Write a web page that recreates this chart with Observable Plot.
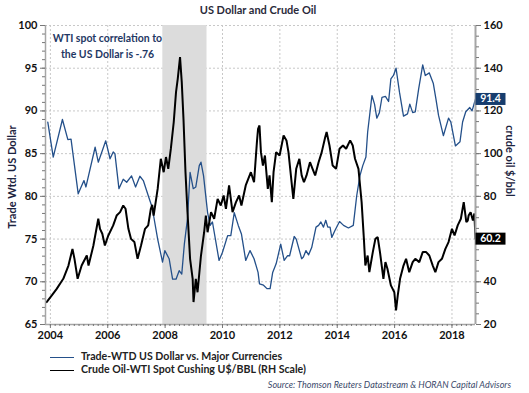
<!DOCTYPE html>
<html><head><meta charset="utf-8">
<script src="https://cdn.jsdelivr.net/npm/d3@7"></script>
<script src="https://cdn.jsdelivr.net/npm/@observablehq/plot@0.6"></script>
<style>
body{margin:0;background:#fff;font-family:Lato,"Open Sans",sans-serif;}
#wrap{position:relative;width:529px;height:393px;overflow:hidden;background:#fff}
#title{position:absolute;z-index:2;left:0;width:516px;top:3px;text-align:center;font-weight:bold;font-size:11px;color:#2a2a3a}
#chart{position:absolute;left:0;top:14px}
.ylab{position:absolute;white-space:nowrap;font-size:11px;font-weight:bold;color:#1c2340}
#ylabL{left:11px;top:177px;transform:translate(-50%,-50%) rotate(-90deg)}
#ylabR{left:510px;top:161px;transform:translate(-50%,-50%) rotate(90deg)}
.leg{position:absolute;left:50px;height:14px;line-height:14px;font-size:10.6px;font-weight:bold;color:#222;white-space:nowrap}
.leg i{display:inline-block;width:24px;height:0;border-top:1.5px solid;vertical-align:middle;margin-right:7px}
#leg1{top:349px}
#leg2{top:362px}
#src{position:absolute;right:18px;top:379px;font-size:9px;font-style:italic;color:#3b4a6b;white-space:nowrap}
</style></head>
<body>
<div id="wrap">
  <div id="chart"></div>
  <div id="title">US Dollar and Crude Oil</div>
  <div class="ylab" id="ylabL">Trade Wtd. US Dollar</div>
  <div class="ylab" id="ylabR">crude oil $/bbl</div>
  <div class="leg" id="leg1"><i style="color:#24508a"></i>Trade-WTD US Dollar vs. Major Currencies</div>
  <div class="leg" id="leg2"><i style="color:#000"></i>Crude Oil-WTI Spot Cushing U$/BBL (RH Scale)</div>
  <div id="src">Source: Thomson Reuters Datastream &amp; HORAN Capital Advisors</div>
</div>
<script>
// ---- data (decimal years) ----
const dollarT = [2003.91,2004.10,2004.42,2004.61,2004.72,2004.97,2005.17,2005.24,2005.56,2005.67,2005.93,2006.08,2006.19,2006.25,2006.39,2006.54,2006.66,2006.83,2006.97,2007.12,2007.24,2007.41,2007.55,2007.60,2007.74,2007.91,2007.99,2008.14,2008.26,2008.38,2008.49,2008.58,2008.67,2008.78,2008.87,2008.98,2009.07,2009.19,2009.25,2009.34,2009.48,2009.57,2009.65,2009.88,2010.00,2010.18,2010.29,2010.41,2010.55,2010.66,2010.81,2010.96,2011.10,2011.24,2011.29,2011.43,2011.55,2011.66,2011.75,2011.87,2012.03,2012.15,2012.27,2012.34,2012.50,2012.57,2012.76,2012.82,2012.91,2013.00,2013.11,2013.26,2013.35,2013.43,2013.52,2013.60,2013.67,2013.75,2013.81,2013.92,2014.08,2014.22,2014.39,2014.56,2014.68,2014.79,2014.89,2015.00,2015.06,2015.21,2015.30,2015.38,2015.47,2015.56,2015.68,2015.79,2015.87,2015.96,2016.05,2016.17,2016.31,2016.45,2016.53,2016.63,2016.72,2016.84,2016.98,2017.07,2017.21,2017.35,2017.44,2017.53,2017.70,2017.88,2017.96,2018.12,2018.28,2018.37,2018.48,2018.62,2018.70,2018.76,2018.82];
const dollarV = [88.7,84.6,89.0,86.65,86.7,80.3,81.85,81.1,85.75,84.0,86.5,84.4,85.2,85.0,80.9,82.0,81.65,82.4,81.1,82.35,81.85,80.1,78.7,77.7,75.0,72.3,73.65,72.7,70.3,70.3,71.3,70.9,74.4,77.4,82.8,80.9,81.1,83.6,84.0,82.4,78.1,76.6,77.0,72.5,73.45,75.4,75.4,78.1,76.6,75.6,72.5,73.65,72.7,71.1,69.75,69.6,69.2,69.2,71.1,72.1,74.4,72.5,73.05,73.05,75.3,75.0,72.7,72.9,73.65,73.15,74.0,76.4,76.6,77.0,76.4,77.2,76.4,76.4,75.2,76.0,77.05,76.6,76.3,76.6,80.1,82.4,83.6,84.6,87.5,91.8,90.8,89.15,89.8,91.6,91.7,91.1,93.75,94.15,95.0,92.2,89.4,89.65,90.8,89.8,89.9,92.6,95.4,94.15,94.45,93.2,91.4,89.5,87.1,89.15,88.7,85.9,86.4,88.7,89.9,90.4,90.0,90.7,91.4];

const oilT = [2003.87,2004.05,2004.22,2004.37,2004.45,2004.63,2004.77,2004.84,2004.95,2005.09,2005.27,2005.33,2005.50,2005.67,2005.73,2005.81,2005.90,2006.02,2006.19,2006.31,2006.43,2006.54,2006.62,2006.72,2006.81,2006.93,2007.04,2007.16,2007.30,2007.41,2007.50,2007.55,2007.60,2007.74,2007.85,2007.95,2008.03,2008.11,2008.20,2008.30,2008.38,2008.44,2008.52,2008.58,2008.64,2008.71,2008.78,2008.87,2008.96,2008.99,2009.07,2009.13,2009.25,2009.36,2009.42,2009.48,2009.60,2009.71,2009.83,2009.94,2010.04,2010.12,2010.23,2010.35,2010.47,2010.58,2010.66,2010.81,2010.99,2011.10,2011.20,2011.24,2011.29,2011.34,2011.41,2011.48,2011.58,2011.64,2011.72,2011.78,2011.87,2011.99,2012.13,2012.23,2012.30,2012.42,2012.47,2012.57,2012.68,2012.76,2012.84,2012.93,2013.05,2013.14,2013.23,2013.35,2013.46,2013.58,2013.63,2013.73,2013.84,2013.96,2014.08,2014.20,2014.31,2014.45,2014.54,2014.62,2014.74,2014.85,2014.93,2014.98,2015.06,2015.12,2015.24,2015.33,2015.41,2015.49,2015.61,2015.68,2015.75,2015.87,2015.99,2016.05,2016.11,2016.19,2016.31,2016.40,2016.51,2016.63,2016.72,2016.86,2016.98,2017.10,2017.21,2017.33,2017.42,2017.53,2017.65,2017.77,2017.88,2018.00,2018.09,2018.20,2018.31,2018.41,2018.50,2018.55,2018.58,2018.65,2018.73,2018.78,2018.82];
const oilV = [30.5,33.6,36.7,39.8,41.4,47.6,55.4,50.75,41.4,47.6,52.3,47.6,57.0,69.5,64.8,62.5,57.0,61.7,66.4,71.0,72.6,75.7,74.2,64.8,60.1,58.6,50.75,57.0,64.8,66.4,74.0,76.0,71.0,83.5,97.6,91.3,98.4,92.9,102.3,114.7,128.8,135.0,145.2,133.5,116.3,91.3,72.6,50.75,41.4,30.5,41.4,35.1,52.3,63.2,71.0,63.2,72.6,69.5,78.8,75.7,80.4,74.2,85.1,72.6,77.3,80.4,75.7,85.1,91.3,86.6,105.4,111.6,113.2,100.7,94.4,99.1,83.5,89.8,77.3,91.3,100.7,99.1,108.5,106.2,100.7,85.1,78.8,92.9,97.6,89.8,86.6,89.8,96.0,92.9,89.8,96.0,100.7,107.7,110.1,103.8,94.4,92.9,102.3,103.8,102.3,106.2,103.8,97.6,92.9,77.3,60.0,47.6,52.3,44.5,53.9,60.1,60.9,53.9,41.4,49.2,46.1,38.3,35.1,26.6,33.6,41.4,47.6,50.75,44.5,49.2,50.75,49.2,53.9,53.9,52.3,47.6,44.5,49.2,50.75,55.4,58.6,64.8,61.7,66.4,69.5,77.3,67.9,68.7,71.0,72.6,68.7,72.0,60.2];

const recession = [{start: 2007.92, end: 2009.46}];
const xDomain = [2003.83, 2018.82];
const leftDomain = [65, 100];
const leftTicks = d3.range(65, 101, 5);
const rightTicks = d3.range(20, 161, 20);
const yearTicks = d3.range(2004, 2019, 2);
const note = "WTI spot correlation to\nthe US Dollar is -.76";

// ---- build ----
const dollar = dollarT.map((t, i) => ({t, v: dollarV[i]}));
const oil = oilT.map((t, i) => ({t, v: oilV[i]}));
const toLeft = o => 65 + (o - 20) / 4;       // oil $ -> left-scale units
const fromLeft = y => Math.round((y - 65) * 4 + 20);

const boxSymbol = {draw(ctx) { ctx.rect(0, -6, 30, 12); }};
const lastD = dollar[dollar.length - 1];
const lastO = oil[oil.length - 1];
// right-axis tick labels hidden under the end-value box (as in the reference)
const coveredRight = rightTicks.filter(v => Math.abs(v - lastO.v) < 4);

const axisCol = "#a6a6a6";
const gridOpts = {stroke: "#c8c8c8", strokeOpacity: 1, strokeDasharray: "2,2"};

const chart = Plot.plot({
  width: 529, height: 331,
  marginTop: 11, marginBottom: 21, marginLeft: 45, marginRight: 54,
  style: {fontFamily: "Lato, 'Open Sans', sans-serif", fontSize: "11px", fontWeight: "bold", color: "#111", background: "transparent"},
  x: {domain: xDomain},
  y: {domain: leftDomain},
  marks: [
    Plot.gridY(leftTicks.filter(d => d > 65), gridOpts),
    Plot.gridX(yearTicks, gridOpts),
    Plot.rect(recession, {x1: "start", x2: "end", fill: "#dcdcdc"}),
    Plot.line(dollar, {x: "t", y: "v", stroke: "#24508a", strokeWidth: 1.3}),
    Plot.line(oil, {x: "t", y: d => toLeft(d.v), stroke: "#000", strokeWidth: 2, strokeLinejoin: "miter"}),
    Plot.ruleX([xDomain[0]], {stroke: axisCol, strokeWidth: 1.5}),
    Plot.ruleX([xDomain[1]], {stroke: axisCol, strokeWidth: 2}),
    Plot.ruleY([65], {stroke: axisCol, strokeWidth: 1.5}),
    // left axis
    Plot.axisY(leftTicks, {anchor: "left", tickSize: 5, tickPadding: 3, stroke: "#777", fill: "#111", label: null, tickFormat: d => String(d)}),
    Plot.axisY(d3.range(65, 101, 1), {anchor: "left", tickSize: 3, stroke: "#777", label: null, tickFormat: () => ""}),
    // right axis (oil)
    Plot.axisY(rightTicks.map(toLeft), {anchor: "right", tickSize: 5, tickPadding: 3, stroke: "#777", fill: "#111", label: null,
      tickFormat: y => coveredRight.includes(fromLeft(y)) ? "" : String(fromLeft(y))}),
    Plot.axisY(d3.range(20, 161, 5).map(toLeft), {anchor: "right", tickSize: 3, stroke: "#777", label: null, tickFormat: () => ""}),
    // x axis
    Plot.axisX(yearTicks, {anchor: "bottom", tickSize: 4, tickPadding: 3, stroke: "#777", fill: "#111", label: null, tickFormat: d => String(d)}),
    Plot.axisX(d3.range(0, 90).map(i => 2004 + i / 6).filter(d => d <= xDomain[1]), {anchor: "bottom", tickSize: 2, stroke: "#777", label: null, tickFormat: () => ""}),
    // annotation
    Plot.text([note], {frameAnchor: "top-left", dx: 62, dy: 6, textAnchor: "middle", lineAnchor: "top", lineHeight: 1.45, fill: "#1f3864", fontSize: 10.5, fontWeight: "bold"}),
    // end value labels
    Plot.dot([lastD], {x: "t", y: "v", symbol: boxSymbol, r: 5, fill: "#173d6e", stroke: "none"}),
    Plot.text([lastD], {x: "t", y: "v", text: d => d.v.toFixed(1), dx: 15, fill: "#fff", fontSize: 10.5, fontWeight: "bold"}),
    Plot.dot([lastO], {x: "t", y: d => toLeft(d.v), symbol: boxSymbol, r: 5, fill: "#000", stroke: "none"}),
    Plot.text([lastO], {x: "t", y: d => toLeft(d.v), text: d => d.v.toFixed(1), dx: 15, fill: "#fff", fontSize: 10.5, fontWeight: "bold"})
  ]
});
document.getElementById("chart").appendChild(chart);
</script>
</body></html>
